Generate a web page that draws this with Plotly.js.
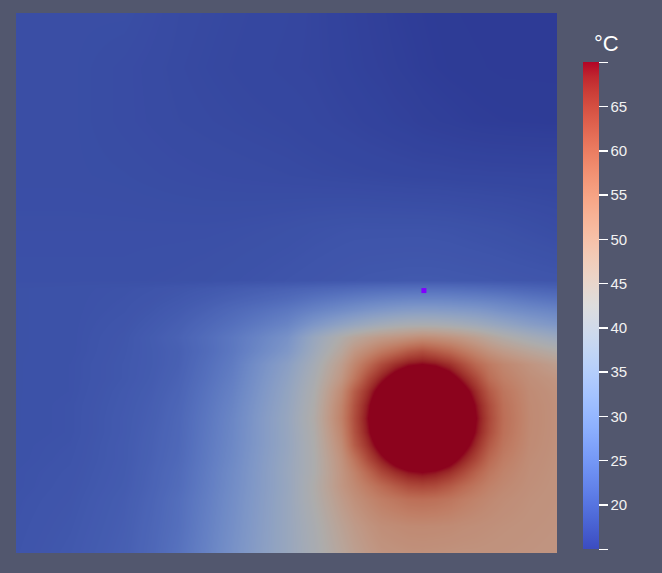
<!DOCTYPE html>
<html>
<head>
<meta charset="utf-8">
<script src="https://cdn.plot.ly/plotly-3.0.1.min.js"></script>
<style>
html,body{margin:0;padding:0;background:#52576e;}
#chart{width:662px;height:573px;}
</style>
</head>
<body>
<div id="chart"></div>
<script>
// grid positions (fraction of the square domain; y measured from the bottom)
const gridX = [0,0.1,0.2,0.25,0.3,0.35,0.4,0.45,0.5,0.55,0.6,0.625,0.65,0.675,0.7,0.725,0.75,0.775,0.8,0.825,0.85,0.875,0.9,0.95,1.0];
const gridY = [0,0.05,0.1,0.125,0.15,0.175,0.2,0.225,0.25,0.275,0.3,0.325,0.35,0.375,0.4,0.425,0.45,0.47,0.49,0.505,0.6,0.7,0.8,0.9,1.0];

// temperature (°C), one row per gridY value
const tY000  = [19.0,19.7,20.9,22.2,24.2,27.2,30.7,34.1,37.5,41.2,45.5,47.6,49.3,50.5,50.9,51.2,51.3,51.2,51.1,51.0,51.0,50.9,50.8,50.6,50.4];
const tY005  = [18.9,19.5,20.7,22.0,23.7,26.8,30.2,33.8,37.5,41.7,46.8,49.0,50.7,51.9,52.4,52.8,52.9,52.8,52.6,52.2,51.9,51.6,51.3,50.9,50.6];
const tY010  = [18.8,19.3,20.5,21.7,23.5,26.4,29.8,33.5,37.5,42.7,48.8,51.4,53.5,55.2,56.5,57.6,57.9,57.6,56.7,55.4,54.2,53.2,52.3,51.3,50.8];
const tY0125 = [18.7,19.2,20.3,21.5,23.1,26.1,29.5,33.3,37.3,43.0,50.0,52.8,55.7,58.3,60.8,62.8,63.5,62.9,61.0,58.6,56.4,54.5,53.2,51.6,50.9];
const tY015  = [18.7,19.1,20.2,21.4,22.9,25.9,29.3,33.2,37.5,42.5,50.3,54.3,59.0,63.5,66.8,69.1,70.0,69.1,66.8,63.5,59.6,56.4,54.2,51.9,51.0];
const tY0175 = [18.6,19.0,20.1,21.2,22.6,25.6,28.9,33.0,37.3,42.5,51.0,56.8,63.3,68.3,73.0,76.5,77.5,76.5,73.0,68.3,63.5,58.6,55.4,52.2,51.1];
const tY020  = [18.6,18.9,20.1,21.1,22.4,25.4,28.6,32.7,37.0,42.7,52.3,60.5,66.8,73.0,78.5,81.5,82.5,81.5,78.5,73.0,66.8,61.0,56.7,52.6,51.2];
const tY0225 = [18.5,18.8,20.0,21.0,22.3,25.2,28.4,32.6,37.1,43.0,53.5,62.0,69.1,76.5,81.5,85.0,86.5,85.0,81.5,76.5,69.1,62.9,57.6,52.8,51.3];
const tY025  = [18.5,18.8,20.0,20.8,22.2,25.0,28.2,32.6,37.2,43.4,54.5,62.6,70.0,77.5,82.5,86.5,88.0,86.5,82.5,77.5,70.0,63.5,57.9,52.9,51.3];
const tY0275 = [18.5,18.8,19.9,20.7,22.0,24.7,27.8,32.2,36.8,43.0,54.0,62.0,69.1,76.5,81.5,85.0,86.5,85.0,81.5,76.5,69.1,62.9,57.6,52.8,51.3];
const tY030  = [18.5,18.7,19.8,20.5,21.7,24.3,27.2,31.6,36.3,42.4,52.5,60.4,66.8,73.0,78.5,81.5,82.5,81.5,78.5,73.0,66.8,61.0,56.7,52.5,51.0];
const tY0325 = [18.5,18.7,19.6,20.3,21.4,23.8,26.6,31.0,35.5,41.6,50.0,56.3,63.2,68.3,73.0,76.5,77.5,76.5,73.0,68.3,63.3,58.0,55.0,51.8,50.2];
const tY035  = [18.5,18.7,19.6,20.2,21.1,23.4,26.0,30.3,34.5,40.5,48.3,53.5,58.5,63.0,66.6,69.1,70.0,69.1,66.7,63.0,58.8,55.8,53.5,50.5,48.0];
const tY0375 = [18.5,18.6,19.5,20.2,21.0,22.9,25.3,28.6,32.2,38.8,45.5,50.0,53.0,56.0,58.5,61.0,62.5,61.0,59.0,56.3,53.5,51.0,49.0,46.0,43.5];
const tY040  = [18.5,18.6,19.4,20.3,21.3,23.1,25.2,27.8,30.8,37.5,43.0,45.5,47.5,49.0,50.0,51.0,52.0,51.5,50.5,49.3,47.5,45.5,43.5,40.5,38.0];
const tY0425 = [18.5,18.6,19.2,19.9,20.8,22.2,23.8,25.7,27.8,32.0,35.5,37.0,38.5,39.7,40.7,41.3,41.5,41.4,40.8,40.0,39.0,37.8,36.5,34.0,32.0];
const tY045  = [18.5,18.6,19.0,19.5,20.2,21.2,22.5,23.8,25.3,27.5,29.5,30.5,31.5,32.3,33.0,33.5,33.7,33.6,33.3,32.9,32.4,31.6,30.5,29.0,27.8];
const tY047  = [18.5,18.6,18.9,19.2,19.7,20.4,21.2,22.0,23.0,24.5,25.8,26.4,27.0,27.5,27.9,28.2,28.3,28.3,28.1,27.8,27.5,27.1,26.6,25.3,24.3];
const tY049  = [18.5,18.6,18.8,19.0,19.3,19.7,20.2,20.7,21.2,21.8,22.4,22.7,23.0,23.2,23.4,23.5,23.6,23.6,23.5,23.3,23.1,22.8,22.5,21.8,21.2];
const tY0505 = [18.3,18.3,18.3,18.35,18.4,18.5,18.65,18.85,19.05,19.25,19.45,19.55,19.65,19.7,19.75,19.8,19.8,19.8,19.75,19.7,19.65,19.6,19.5,19.35,19.2];
const tY060  = [18.2,18.2,18.2,18.2,18.2,18.2,18.25,18.35,18.5,18.7,18.85,18.9,18.9,18.9,18.9,18.9,18.9,18.85,18.8,18.7,18.6,18.5,18.4,18.1,17.8];
const tY070  = [18.0,18.0,17.9,17.8,17.7,17.62,17.55,17.48,17.4,17.3,17.2,17.15,17.1,17.05,17.0,16.95,16.9,16.9,16.85,16.8,16.8,16.75,16.75,16.7,16.7];
const tY080  = [18.0,18.0,17.7,17.55,17.4,17.3,17.2,17.1,17.0,16.8,16.6,16.5,16.35,16.25,16.1,16.0,15.8,15.7,15.6,15.5,15.4,15.35,15.3,15.25,15.2];
const tY090  = [18.0,18.0,17.7,17.5,17.3,17.15,17.0,16.85,16.7,16.6,16.3,16.15,16.0,15.9,15.7,15.55,15.4,15.3,15.2,15.15,15.1,15.05,15.0,15.0,15.0];
const tY100  = [18.0,18.0,18.0,17.7,17.4,17.25,17.1,16.95,16.8,16.6,16.2,16.05,15.9,15.75,15.5,15.4,15.3,15.2,15.1,15.05,15.0,15.0,15.0,15.0,15.0];

// probe point
const probeX = [0.754];
const probeY = [0.486];

// colour bar
const tempMin = 15;
const tempMax = 70;
const tickVals = [15,20,25,30,35,40,45,50,55,60,65,70];
const tickText = ['','20','25','30','35','40','45','50','55','60','65',''];

const zRows = [tY000,tY005,tY010,tY0125,tY015,tY0175,tY020,tY0225,tY025,tY0275,tY030,tY0325,tY035,tY0375,tY040,tY0425,tY045,tY047,tY049,tY0505,tY060,tY070,tY080,tY090,tY100];

const coolWarm = [
 [0,'rgb(59,76,192)'],[0.03125,'rgb(68,90,204)'],[0.0625,'rgb(77,104,215)'],[0.09375,'rgb(87,117,225)'],
 [0.125,'rgb(98,130,234)'],[0.15625,'rgb(108,142,241)'],[0.1875,'rgb(119,154,247)'],[0.21875,'rgb(130,165,251)'],
 [0.25,'rgb(141,176,254)'],[0.28125,'rgb(152,185,255)'],[0.3125,'rgb(163,194,255)'],[0.34375,'rgb(174,201,253)'],
 [0.375,'rgb(184,208,249)'],[0.40625,'rgb(194,213,244)'],[0.4375,'rgb(204,217,238)'],[0.46875,'rgb(213,219,230)'],
 [0.5,'rgb(221,221,221)'],[0.53125,'rgb(229,216,209)'],[0.5625,'rgb(236,211,197)'],[0.59375,'rgb(241,204,185)'],
 [0.625,'rgb(245,196,173)'],[0.65625,'rgb(247,187,160)'],[0.6875,'rgb(247,177,148)'],[0.71875,'rgb(247,166,135)'],
 [0.75,'rgb(244,154,123)'],[0.78125,'rgb(241,141,111)'],[0.8125,'rgb(236,127,99)'],[0.84375,'rgb(229,112,88)'],
 [0.875,'rgb(222,96,77)'],[0.90625,'rgb(213,80,66)'],[0.9375,'rgb(203,62,56)'],[0.96875,'rgb(192,40,47)'],
 [1,'rgb(180,4,38)']
];

const field = {
  type: 'heatmap',
  x: gridX,
  y: gridY,
  z: zRows,
  zsmooth: 'best',
  zmin: tempMin,
  zmax: tempMax,
  zauto: false,
  colorscale: coolWarm,
  opacity: 0.78,
  hoverinfo: 'skip',
  showscale: true,
  colorbar: {
    x: 1.0481, xanchor: 'left', xpad: 0,
    y: 0.4578, yanchor: 'middle', ypad: 0,
    len: 487, lenmode: 'pixels',
    thickness: 16, thicknessmode: 'pixels',
    outlinewidth: 0,
    ticks: 'outside', ticklen: 9, tickwidth: 1.5, tickcolor: '#ffffff',
    tickmode: 'array', tickvals: tickVals, ticktext: tickText,
    tickfont: {family: 'Liberation Sans, Arial, sans-serif', size: 15, color: '#f2f2f2'}
  }
};

const probe = {
  type: 'scatter',
  mode: 'markers',
  x: probeX,
  y: probeY,
  marker: {symbol: 'square', size: 5, color: '#8000ff', line: {width: 0}},
  hoverinfo: 'skip',
  showlegend: false
};

const layout = {
  width: 662,
  height: 573,
  margin: {l: 16, r: 105, t: 13, b: 20, pad: 0},
  paper_bgcolor: '#52576e',
  plot_bgcolor: '#000000',
  showlegend: false,
  xaxis: {range: [0, 1], visible: false, fixedrange: true},
  yaxis: {range: [0, 1], visible: false, fixedrange: true},
  annotations: [{
    text: '°C', xref: 'paper', yref: 'paper',
    x: 1.0924, y: 0.9444, xanchor: 'center', yanchor: 'middle',
    showarrow: false,
    font: {family: 'Liberation Sans, Arial, sans-serif', size: 22, color: '#ffffff'}
  }]
};

Plotly.newPlot('chart', [field, probe], layout, {displayModeBar: false, staticPlot: true});
</script>
</body>
</html>
